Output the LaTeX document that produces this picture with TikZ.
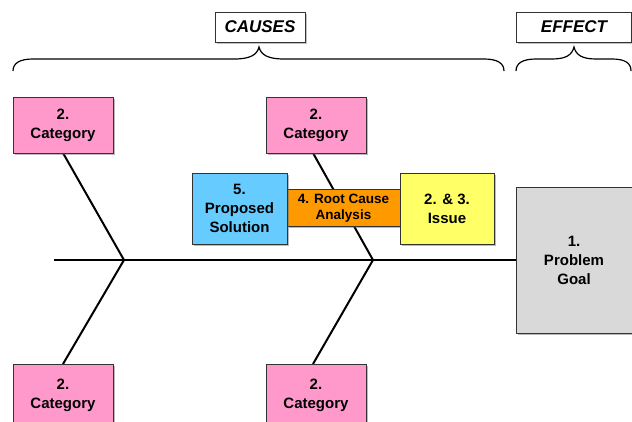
\documentclass[tikz,border=0pt]{standalone}
\usepackage{fontspec}
\setmainfont{Liberation Sans}
\usetikzlibrary{shadows}
\definecolor{catpink}{HTML}{FF99CC}
\definecolor{solblue}{HTML}{66CCFF}
\definecolor{rcaorange}{HTML}{FF9900}
\definecolor{issyellow}{HTML}{FFFF66}
\definecolor{goalgray}{HTML}{D9D9D9}
\tikzset{
  box/.style={draw=black!80, line width=0.8pt, align=center, font=\bfseries\fontsize{15}{19}\selectfont,
    inner sep=0pt, drop shadow={shadow xshift=1.8pt, shadow yshift=-1.8pt, opacity=0.45, fill=black!60}},
  label/.style={draw=black!80, line width=0.8pt, fill=white, font=\bfseries\itshape\fontsize{17}{20}\selectfont,
    inner sep=0pt, drop shadow={shadow xshift=1.5pt, shadow yshift=-1.5pt, opacity=0.4, fill=black!60}},
  bone/.style={line width=2pt, black},
  spine/.style={line width=2.6pt, black},
  bracep/.style={line width=1.2pt, black}
}
\begin{document}
\begin{tikzpicture}[x=1pt,y=-1pt]
\useasboundingbox (0,0) rectangle (632,421);
\begin{scope}
\clip (0,0) rectangle (632,421);
% labels
\node[label, minimum width=90pt, minimum height=30pt] (causes) at (260,27) {CAUSES};
\node[label, minimum width=115pt, minimum height=30pt] (effect) at (574,27) {EFFECT};
% braces
\draw[bracep] (13,71) .. controls (13,63) and (20,59) .. (33,59) -- (234,59)
  .. controls (250,59) and (257,55) .. (259,47)
  .. controls (261,55) and (268,59) .. (284,59) -- (484,59)
  .. controls (497,59) and (504,63) .. (504,71);
\draw[bracep] (516,71) .. controls (516,63) and (523,59) .. (536,59) -- (552,59)
  .. controls (566,59) and (572,55) .. (574,47)
  .. controls (576,55) and (582,59) .. (596,59) -- (612,59)
  .. controls (625,59) and (631,63) .. (631,71);
% coordinates
\coordinate (tail) at (54,260);
\coordinate (j1) at (124,260);
\coordinate (j2) at (373,260);
\coordinate (t1) at (63,153);
\coordinate (b1) at (63,364);
\coordinate (t2) at (313,153);
\coordinate (b2) at (313,364);
% bones
\draw[bone] (t1) -- (j1) -- (b1);
\draw[bone] (t2) -- (j2) -- (b2);
% boxes
\node[box, fill=goalgray, minimum width=116pt, minimum height=146pt] (goal) at (574,260) {1.\\Problem\\Goal};
\draw[spine] (tail) -- (goal.west);
\node[box, fill=catpink, minimum width=100pt, minimum height=56pt] (c1) at (63,125) {2.\\Category};
\node[box, fill=catpink, minimum width=100pt, minimum height=56pt] (c2) at (316,125) {2.\\Category};
\node[box, fill=catpink, minimum width=100pt, minimum height=62pt] (c3) at (63,395) {2.\\Category};
\node[box, fill=catpink, minimum width=100pt, minimum height=62pt] (c4) at (316,395) {2.\\Category};
\node[box, fill=rcaorange, minimum width=113pt, minimum height=37pt, font=\bfseries\fontsize{13.5}{16}\selectfont] (rca) at (343.5,208) {4. Root Cause\\Analysis};
\node[box, fill=solblue, minimum width=95pt, minimum height=71pt] (sol) at (239.5,208.5) {5.\\Proposed\\Solution};
\node[box, fill=issyellow, minimum width=94pt, minimum height=71pt] (iss) at (447,208.5) {2. \& 3.\\Issue};
\end{scope}
\end{tikzpicture}
\end{document}
